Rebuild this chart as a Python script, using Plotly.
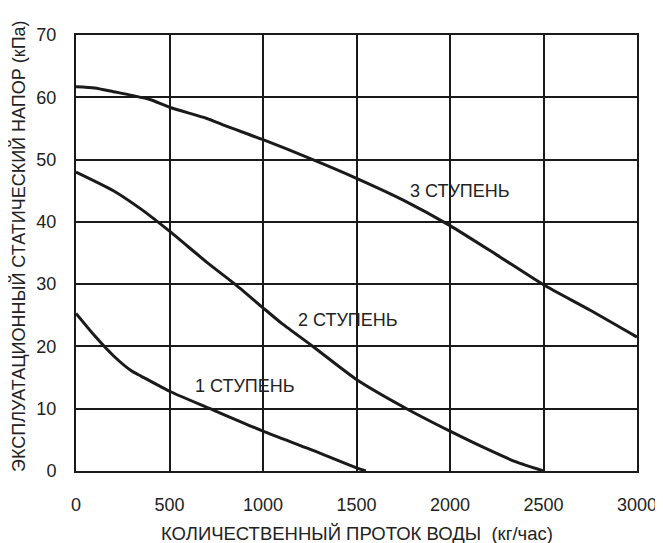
import plotly.graph_objects as go

# flow (kg/h) vs head (kPa) for each speed step
x_step1 = [0, 100, 200, 300, 350, 500, 717, 1000, 1250, 1500, 1550]
y_step1 = [25.3, 21.7, 18.5, 16.0, 15.2, 12.8, 10.0, 6.4, 3.5, 0.5, 0]

x_step2 = [0, 200, 350, 500, 700, 850, 1000, 1100, 1267, 1500, 1768, 2000, 2200, 2350, 2500]
y_step2 = [48.0, 45.0, 42.0, 38.5, 33.5, 30.0, 26.2, 23.7, 20.0, 14.7, 10.0, 6.4, 3.5, 1.5, 0]

x_step3 = [0, 100, 200, 300, 400, 500, 700, 800, 1000, 1250, 1500, 1750, 2000, 2250, 2500, 2750, 3000]
y_step3 = [61.7, 61.5, 60.9, 60.3, 59.6, 58.4, 56.6, 55.4, 53.2, 50.2, 47.0, 43.5, 39.4, 34.7, 29.9, 25.8, 21.5]

labels = ["1 СТУПЕНЬ", "2 СТУПЕНЬ", "3 СТУПЕНЬ"]
label_x = [903, 1455, 2053]
label_y = [13.7, 24.3, 44.9]

font = "Liberation Sans"
ink = "#1a1a1a"

fig = go.Figure()
for xs, ys in [(x_step1, y_step1), (x_step2, y_step2), (x_step3, y_step3)]:
    fig.add_trace(go.Scatter(x=xs, y=ys, mode="lines",
                             line=dict(color=ink, width=3, shape="spline", smoothing=0.6),
                             showlegend=False, hoverinfo="skip"))

for t, lx, ly in zip(labels, label_x, label_y):
    fig.add_annotation(x=lx, y=ly, text=t, showarrow=False,
                       font=dict(family=font, size=18, color="#222"))

# axis titles as annotations so the margins stay put
fig.add_annotation(xref="paper", yref="paper", x=0.5, y=0, yshift=-62, yanchor="middle",
                   text="КОЛИЧЕСТВЕННЫЙ ПРОТОК ВОДЫ  (кг/час)", showarrow=False,
                   font=dict(family=font, size=18.5, color="#222"))
fig.add_annotation(xref="paper", yref="paper", x=0, xshift=-58, y=0.5, yshift=7,
                   xanchor="center", textangle=-90,
                   text="ЭКСПЛУАТАЦИОННЫЙ СТАТИЧЕСКИЙ НАПОР (кПа)", showarrow=False,
                   font=dict(family=font, size=18, color="#222"))

# page body has an 8px margin, so the figure is sized to fit inside the window
fig.update_layout(
    width=655, height=535,
    margin=dict(l=68, r=26, t=27, b=72),
    plot_bgcolor="white", paper_bgcolor="white",
    font=dict(family=font, size=18, color="#222"),
)
fig.update_xaxes(range=[0, 3000], dtick=500, showgrid=True, gridcolor=ink, gridwidth=2,
                 showline=True, linecolor=ink, linewidth=2, mirror=True, zeroline=False,
                 ticks="", ticklabelstandoff=16, automargin=False)
fig.update_yaxes(range=[0, 70], dtick=10, showgrid=True, gridcolor=ink, gridwidth=2,
                 showline=True, linecolor=ink, linewidth=2, mirror=True, zeroline=False,
                 ticks="", ticklabelstandoff=14, automargin=False)

fig.write_html("out.html")
